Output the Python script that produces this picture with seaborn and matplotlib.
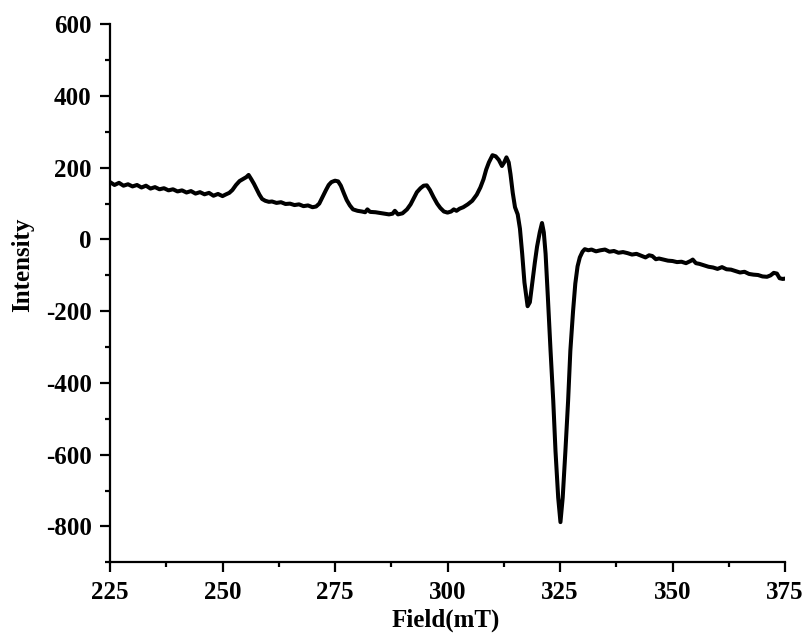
import matplotlib
matplotlib.use("Agg")
import matplotlib.pyplot as plt
import seaborn as sns
import pandas as pd
from matplotlib.ticker import MultipleLocator

field = [225, 226, 227, 228, 229, 230, 231, 232, 233, 234, 235, 236, 237, 238, 239, 240,
         241, 242, 243, 244, 245, 246, 247, 248, 249, 250, 250.8, 251.5, 252.2, 253, 253.8,
         254.5, 255.3, 255.8, 256.4, 257, 257.6, 258.2, 258.8, 259.5, 260.3, 261, 262, 263,
         264, 265, 266, 267, 268, 269, 270, 270.8, 271.5, 272.2, 273, 273.6, 274.2, 275,
         275.7, 276.3, 277, 277.6, 278.3, 279, 280, 281, 281.7, 282.2, 282.8, 284, 285, 286,
         287, 287.8, 288.3, 289, 290, 291, 291.8, 292.5, 293.2, 294, 294.7, 295.4, 296.1,
         296.9, 297.7, 298.4, 299.2, 300, 300.8, 301.4, 302, 302.7, 303.5, 304.5, 305.5,
         306.5, 307.3, 308, 308.6, 309.2, 310, 310.7, 311.4, 312.1, 312.6, 313.1, 313.6, 314,
         314.5, 315, 315.6, 316.1, 316.6, 317.1, 317.8, 318.3, 318.8, 319.4, 319.9, 320.5,
         321, 321.4, 321.8, 322.3, 322.9, 323.5, 324, 324.6, 325.1, 325.6, 326.2, 326.8,
         327.3, 327.9, 328.4, 328.9, 329.4, 330, 330.5, 331.3, 332, 333, 334, 335, 336, 337,
         338, 339, 340, 341, 342, 343, 344, 344.8, 345.5, 346.3, 347, 348, 349, 350, 351,
         352, 353, 354, 354.5, 355.2, 356, 357, 358, 359, 360, 361, 362, 363, 364, 365, 366,
         367, 368, 369, 370, 371, 371.8, 372.5, 373.2, 373.8, 374.5, 375]

intensity = [160, 152, 158, 150, 154, 148, 152, 145, 150, 142, 146, 140, 143, 137, 140, 134,
             137, 131, 135, 128, 132, 126, 130, 122, 127, 121, 126, 130, 138, 152, 163,
             168, 174, 180, 168, 155, 140, 125, 113, 108, 105, 106, 102, 104,
             99, 100, 96, 98, 93, 95, 90, 92, 100, 118, 138, 152, 160, 164,
             162, 150, 128, 110, 95, 84, 80, 78, 76, 84, 77, 76, 74, 72,
             70, 72, 80, 70, 73, 84, 98, 115, 132, 143, 150, 151, 138,
             118, 100, 88, 78, 75, 78, 84, 80, 86, 90, 98, 108,
             125, 145, 168, 195, 215, 235, 232, 222, 205, 215, 229, 215, 182,
             130, 90, 70, 30, -40, -120, -186, -175, -125, -65, -20, 20,
             46, 20, -40, -160, -310, -450, -590, -720, -788, -720, -590, -450,
             -310, -200, -123, -75, -50, -34, -27, -30, -28, -33, -30, -28, -34, -32,
             -37, -35, -38, -42, -40, -45, -50, -44, -46, -55, -53, -56, -59, -60, -63,
             -62, -66, -60, -56, -66, -68, -72, -76, -78, -82, -77, -83, -84, -88, -92, -90,
             -96, -98, -99, -103, -104, -100, -93, -95, -108, -110, -109]

x_ticks = [225, 250, 275, 300, 325, 350, 375]
y_ticks = [-800, -600, -400, -200, 0, 200, 400, 600]

df = pd.DataFrame({"Field": field, "Intensity": intensity})

sns.set_style("ticks")
plt.rcParams["font.family"] = ["Liberation Serif", "DejaVu Serif"]
plt.rcParams["font.weight"] = "bold"
plt.rcParams["axes.unicode_minus"] = False
plt.rcParams["text.color"] = "black"
plt.rcParams["axes.labelcolor"] = "black"

fig = plt.figure(figsize=(8.06, 6.39), dpi=100)
ax = fig.add_axes([110 / 806, 1 - 562.3 / 639, 675 / 806, (562.3 - 24.3) / 639])

sns.lineplot(data=df, x="Field", y="Intensity", color="black", linewidth=2.9,
             ax=ax, sort=False)

ax.set_xlim(225, 375)
ax.set_ylim(-900, 600)
ax.set_xticks(x_ticks)
ax.set_yticks(y_ticks)
ax.xaxis.set_minor_locator(MultipleLocator(12.5))
ax.yaxis.set_minor_locator(MultipleLocator(100))

for s in ["top", "right"]:
    ax.spines[s].set_visible(False)
for s in ["left", "bottom"]:
    ax.spines[s].set_linewidth(1.6)
    ax.spines[s].set_color("black")

ax.tick_params(axis="both", which="major", direction="out", length=7.2, width=1.6,
               labelsize=18, colors="black")
ax.tick_params(axis="both", which="minor", direction="out", length=3.8, width=1.6,
               colors="black")
ax.tick_params(axis="y", which="major", pad=6.0)
ax.tick_params(axis="x", which="major", pad=6.0)
for lab in ax.get_xticklabels() + ax.get_yticklabels():
    lab.set_fontweight("bold")

ax.set_xlabel("Field(mT)", fontsize=18, fontweight="bold", color="black")
ax.set_ylabel("Intensity", fontsize=18, fontweight="bold", color="black")
ax.xaxis.set_label_coords(0.497, -0.107)
ax.xaxis.label.set_va("center")
ax.yaxis.set_label_coords(-0.130, 0.553)
ax.yaxis.label.set_va("center")

fig.savefig("out.png", dpi=100, facecolor="white")
